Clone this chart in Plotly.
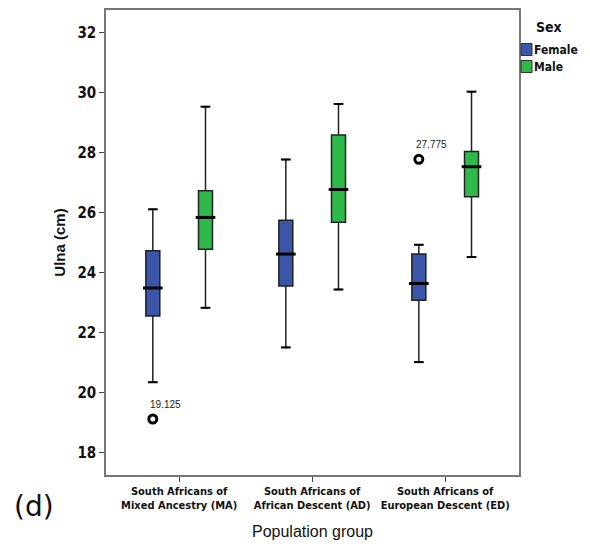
import plotly.graph_objects as go

groups = ["South Africans of<br>Mixed Ancestry (MA)",
          "South Africans of<br>African Descent (AD)",
          "South Africans of<br>European Descent (ED)"]
group_pos = [0, 1, 2]

female_low = [20.35, 21.51, 21.02]
female_q1 = [22.56, 23.56, 23.08]
female_med = [23.49, 24.62, 23.64]
female_q3 = [24.73, 25.75, 24.62]
female_high = [26.11, 27.77, 24.93]

male_low = [22.83, 23.44, 24.52]
male_q1 = [24.78, 25.68, 26.53]
male_med = [25.84, 26.77, 27.53]
male_q3 = [26.73, 28.59, 28.04]
male_high = [29.53, 29.62, 30.03]

outlier_group = [0, 2]
outlier_vals = [19.125, 27.775]
outlier_labels = ["19.125", "27.775"]

yticks = [18, 20, 22, 24, 26, 28, 30, 32]
legend_names = ["Female", "Male"]

offset = 0.198
bw = 0.105
F_COL = "#3B55A8"
M_COL = "#2DBA4A"
COLORS = [F_COL, M_COL]
TICKFONT = "DejaVu Sans Condensed, Liberation Sans Narrow, Liberation Sans, Arial"
FONT = "Liberation Sans, Arial"

# page body has an 8px margin; figure sized to fit the window
PAD = 8
W, H = 590 - 2 * PAD, 548 - 2 * PAD
ML, MT = 106 - PAD, 10 - PAD
MR = W - (519 - PAD)
MB = H - (475 - PAD)
PW, PH = W - ML - MR, H - MT - MB

def px2paper(x, y):
    # page pixel -> paper coordinates
    return (x - PAD - ML) / PW, (H - MB - (y - PAD)) / PH

fig = go.Figure()

def add_series(name, color, sign, low, q1, med, q3, high):
    xs = [p + sign * offset for p in group_pos]
    fig.add_trace(go.Box(
        name=name, x=xs, q1=q1, median=med, q3=q3,
        lowerfence=low, upperfence=high, width=bw,
        fillcolor=color, line=dict(color="#222222", width=1.5),
        boxpoints=False, hoverinfo="skip", showlegend=False))
    fig.add_trace(go.Scatter(x=xs, y=med, mode="markers", showlegend=False,
                             hoverinfo="skip",
                             marker=dict(symbol="line-ew", size=14, color="black",
                                         line=dict(color="black", width=3))))
    fig.add_trace(go.Scatter(x=xs + xs, y=list(low) + list(high), mode="markers",
                             showlegend=False, hoverinfo="skip",
                             marker=dict(symbol="line-ew", size=7, color="black",
                                         line=dict(color="black", width=2))))

add_series("Female", F_COL, -1, female_low, female_q1, female_med, female_q3, female_high)
add_series("Male", M_COL, 1, male_low, male_q1, male_med, male_q3, male_high)

ox = [g - offset for g in outlier_group]
fig.add_trace(go.Scatter(x=ox, y=outlier_vals, mode="markers", showlegend=False,
                         hoverinfo="skip",
                         marker=dict(symbol="circle-open", size=8, color="black",
                                     line=dict(color="black", width=3))))
for xv, yv, lab in zip(ox, outlier_vals, outlier_labels):
    fig.add_annotation(x=xv, y=yv, text=lab, showarrow=False, xanchor="left",
                       yanchor="bottom", xshift=-5, yshift=7,
                       font=dict(family=FONT, size=10, color="#222"))

fig.update_layout(
    width=W, height=H,
    margin=dict(l=ML, r=MR, t=MT, b=MB, autoexpand=False),
    paper_bgcolor="white", plot_bgcolor="white",
    font=dict(family=FONT, color="#111"),
    showlegend=False,
    xaxis=dict(range=[-0.55, 2.555], tickmode="array", tickvals=group_pos,
               ticktext=["<b>" + g.replace("<br>", "</b><br><b>") + "</b>" for g in groups],
               tickangle=0,
               tickfont=dict(size=11, family=TICKFONT, color="#111"),
               ticks="outside", ticklen=5, tickcolor="#444",
               showline=True, linecolor="#777", linewidth=1.5, mirror=True,
               showgrid=False, zeroline=False,
               title=dict(text="Population group", font=dict(size=16, family=FONT), standoff=16)),
    yaxis=dict(range=[17.26, 32.75], tickmode="array", tickvals=yticks,
               ticktext=["<b>%d</b>" % v for v in yticks],
               tickfont=dict(size=15, family=TICKFONT, color="#111"),
               ticks="outside", ticklen=5, tickcolor="#444",
               showline=True, linecolor="#777", linewidth=1.5, mirror=True,
               showgrid=False, zeroline=False,
               title=dict(text="<b>Ulna (cm)</b>", font=dict(size=15, family=FONT), standoff=8)),
)

# legend drawn manually
tx, ty = px2paper(549, 27.5)
fig.add_annotation(text="<b>Sex</b>", xref="paper", yref="paper", x=tx, y=ty,
                   xanchor="center", yanchor="middle", showarrow=False,
                   font=dict(size=14, family=TICKFONT, color="#111"))
for i, (nm, col) in enumerate(zip(legend_names, COLORS)):
    top = 43.5 + i * 17
    x0, y0 = px2paper(521, top + 12)
    x1, y1 = px2paper(532, top)
    fig.add_shape(type="rect", xref="paper", yref="paper", x0=x0, y0=y0, x1=x1, y1=y1,
                  fillcolor=col, line=dict(color="#333", width=1))
    lx, ly = px2paper(532, top + 6.5)
    fig.add_annotation(text="<b>%s</b>" % nm, xref="paper", yref="paper", x=lx, y=ly,
                       xanchor="left", yanchor="middle", showarrow=False,
                       font=dict(size=12, family=TICKFONT, color="#111"))

dx, dy = px2paper(12, 506)
fig.add_annotation(text="(d)", xref="paper", yref="paper", x=dx, y=dy,
                   xanchor="left", yanchor="middle", showarrow=False,
                   font=dict(size=28, family="DejaVu Sans, Liberation Sans", color="#111"))

fig.write_html("out.html")
